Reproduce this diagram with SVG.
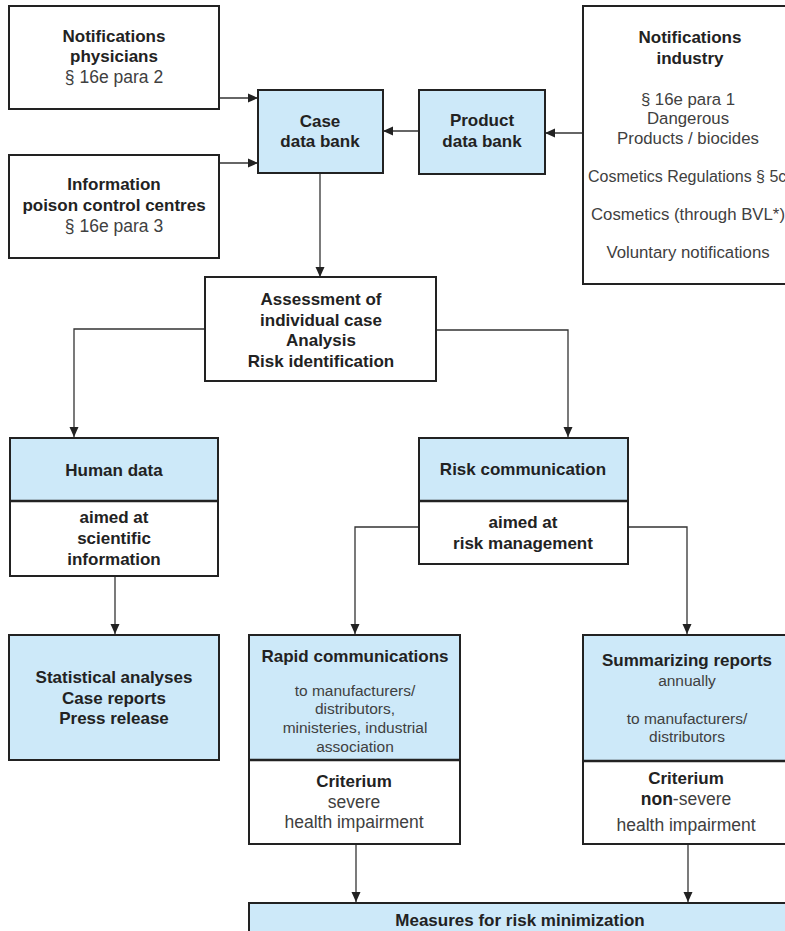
<svg xmlns="http://www.w3.org/2000/svg" width="785" height="931" viewBox="0 0 785 931">
<style>
.box{fill:#fff;stroke:#222;stroke-width:2}
.blue{fill:#cde9f9;stroke:#222;stroke-width:2}
.div{stroke:#222;stroke-width:2.5}
.b{font-family:"Liberation Sans",Arial,sans-serif;font-weight:bold;font-size:17px;fill:#222;text-anchor:middle}
.r{font-family:"Liberation Sans",Arial,sans-serif;font-size:17.5px;fill:#404040;text-anchor:middle}
.i{font-family:"Liberation Sans",Arial,sans-serif;font-size:16.8px;fill:#404040;text-anchor:middle}
.s{font-family:"Liberation Sans",Arial,sans-serif;font-size:15.5px;fill:#404040;text-anchor:middle}
.m{font-family:"Liberation Sans",Arial,sans-serif;font-size:17.5px;fill:#404040;text-anchor:middle}
.c{fill:none;stroke:#333;stroke-width:1.3}
</style>
<defs>
<marker id="ah" viewBox="0 0 10 10" refX="10" refY="5" markerWidth="10" markerHeight="10" markerUnits="userSpaceOnUse" orient="auto">
<path d="M0,0.5 L10,5 L0,9.5 z" fill="#222"/>
</marker>
</defs>
<rect width="785" height="931" fill="#fff"/>
<g id="connectors">
<path class="c" d="M219,98 H258" marker-end="url(#ah)"/>
<path class="c" d="M219,163 H258" marker-end="url(#ah)"/>
<path class="c" d="M419,131 H383" marker-end="url(#ah)"/>
<path class="c" d="M583,133 H545" marker-end="url(#ah)"/>
<path class="c" d="M320,173 V277" marker-end="url(#ah)"/>
<path class="c" d="M205,329 H74 V437" marker-end="url(#ah)"/>
<path class="c" d="M436,330 H568 V437" marker-end="url(#ah)"/>
<path class="c" d="M115,576 V634" marker-end="url(#ah)"/>
<path class="c" d="M419,527 H355 V634" marker-end="url(#ah)"/>
<path class="c" d="M628,527 H687 V634" marker-end="url(#ah)"/>
<path class="c" d="M356,844 V902" marker-end="url(#ah)"/>
<path class="c" d="M688,844 V902" marker-end="url(#ah)"/>
</g>
<g id="notifications-physicians">
<rect class="box" x="9" y="6" width="210" height="103"/>
<text class="b" x="114" y="42">Notifications</text>
<text class="b" x="114" y="62">physicians</text>
<text class="r" x="114" y="83">§ 16e para 2</text>
</g>
<g id="information-poison">
<rect class="box" x="9" y="155" width="210" height="103"/>
<text class="b" x="114" y="190">Information</text>
<text class="b" x="114" y="211">poison control centres</text>
<text class="r" x="114" y="232">§ 16e para 3</text>
</g>
<g id="case-data-bank">
<rect class="blue" x="258" y="90" width="125" height="83"/>
<text class="b" x="320" y="127">Case</text>
<text class="b" x="320" y="147">data bank</text>
</g>
<g id="product-data-bank">
<rect class="blue" x="419" y="90" width="126" height="84"/>
<text class="b" x="482" y="126">Product</text>
<text class="b" x="482" y="147">data bank</text>
</g>
<g id="notifications-industry">
<rect class="box" x="583" y="6" width="214" height="278"/>
<text class="b" x="690" y="43">Notifications</text>
<text class="b" x="690" y="64">industry</text>
<text class="i" x="688" y="105">§ 16e para 1</text>
<text class="i" x="688" y="124">Dangerous</text>
<text class="i" x="688" y="144">Products / biocides</text>
<text class="i" x="588" y="182" style="text-anchor:start;font-size:16px">Cosmetics Regulations § 5c</text>
<text class="i" x="688" y="220">Cosmetics (through BVL*)</text>
<text class="i" x="688" y="258">Voluntary notifications</text>
</g>
<g id="assessment">
<rect class="box" x="205" y="277" width="231" height="104"/>
<text class="b" x="321" y="305">Assessment of</text>
<text class="b" x="321" y="326">individual case</text>
<text class="b" x="321" y="346">Analysis</text>
<text class="b" x="321" y="367">Risk identification</text>
</g>
<g id="human-data">
<rect class="box" x="10" y="438" width="208" height="138"/>
<rect class="blue" x="10" y="438" width="208" height="63"/>
<line class="div" x1="10" y1="501" x2="218" y2="501"/>
<text class="b" x="114" y="476">Human data</text>
<text class="b" x="114" y="523">aimed at</text>
<text class="b" x="114" y="544">scientific</text>
<text class="b" x="114" y="565">information</text>
</g>
<g id="risk-communication">
<rect class="box" x="419" y="438" width="209" height="126"/>
<rect class="blue" x="419" y="438" width="209" height="63"/>
<line class="div" x1="419" y1="501" x2="628" y2="501"/>
<text class="b" x="523" y="475">Risk communication</text>
<text class="b" x="523" y="528">aimed at</text>
<text class="b" x="523" y="549">risk management</text>
</g>
<g id="statistical">
<rect class="blue" x="9" y="635" width="210" height="125"/>
<text class="b" x="114" y="683">Statistical analyses</text>
<text class="b" x="114" y="704">Case reports</text>
<text class="b" x="114" y="724">Press release</text>
</g>
<g id="rapid-communications">
<rect class="box" x="249" y="635" width="211" height="209"/>
<rect class="blue" x="249" y="635" width="211" height="125"/>
<line class="div" x1="249" y1="760" x2="460" y2="760"/>
<text class="b" x="355" y="662">Rapid communications</text>
<text class="s" x="355" y="696">to manufacturers/</text>
<text class="s" x="355" y="714">distributors,</text>
<text class="s" x="355" y="733">ministeries, industrial</text>
<text class="s" x="355" y="752">association</text>
<text class="b" x="354" y="787">Criterium</text>
<text class="m" x="354" y="808">severe</text>
<text class="m" x="354" y="828">health impairment</text>
</g>
<g id="summarizing-reports">
<rect class="box" x="583" y="635" width="208" height="209"/>
<rect class="blue" x="583" y="635" width="208" height="126"/>
<line class="div" x1="583" y1="761" x2="791" y2="761"/>
<text class="b" x="687" y="666">Summarizing reports</text>
<text class="s" x="687" y="686">annually</text>
<text class="s" x="687" y="724">to manufacturers/</text>
<text class="s" x="687" y="742">distributors</text>
<text class="b" x="686" y="784">Criterium</text>
<text class="m" x="686" y="805"><tspan font-weight="bold" fill="#222">non</tspan>-severe</text>
<text class="m" x="686" y="831">health impairment</text>
</g>
<g id="measures">
<rect class="blue" x="249" y="903" width="542" height="40"/>
<text class="b" x="520" y="926">Measures for risk minimization</text>
</g>
</svg>
